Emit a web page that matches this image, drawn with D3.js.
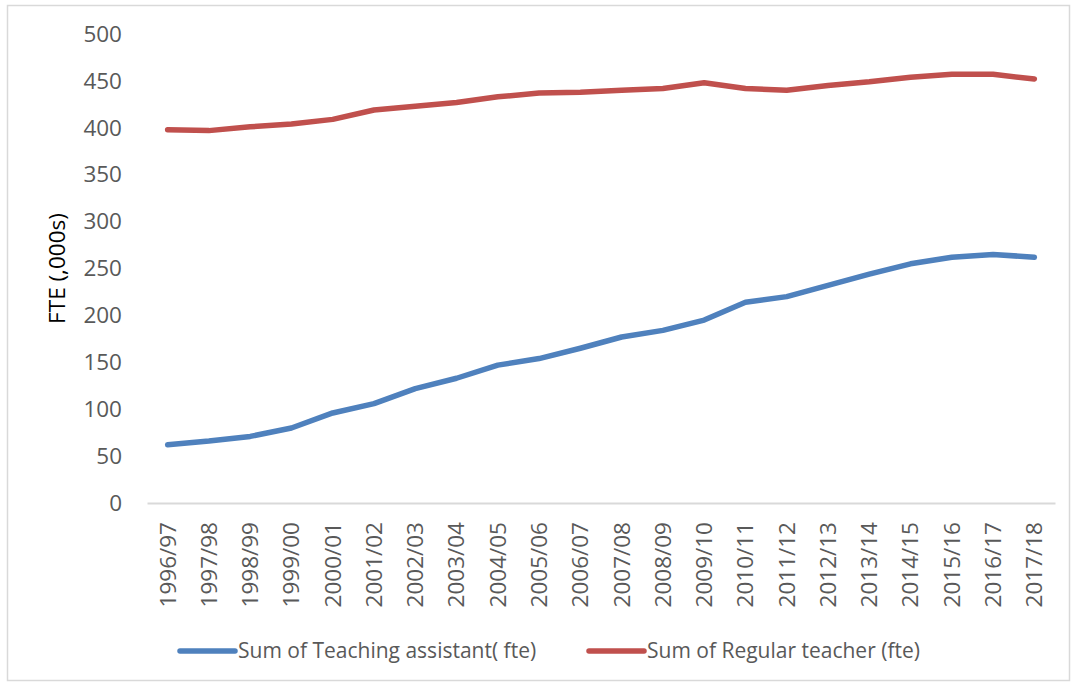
<!DOCTYPE html>
<html>
<head>
<meta charset="utf-8">
<script src="https://cdn.jsdelivr.net/npm/d3@7"></script>
<style>
  body { margin: 0; background: #fff; }
  svg text { font-family: "Open Sans", "Noto Sans", sans-serif; }
</style>
</head>
<body>
<div id="chart"></div>
<script>
// school years on the x axis
const years = ["1996/97", "1997/98", "1998/99", "1999/00", "2000/01", "2001/02", "2002/03",
    "2003/04", "2004/05", "2005/06", "2006/07", "2007/08", "2008/09", "2009/10", "2010/11",
    "2011/12", "2012/13", "2013/14", "2014/15", "2015/16", "2016/17", "2017/18"];

// FTE, thousands
const teachingAssistant = [62, 66, 71, 80, 96, 106, 122, 133, 147, 154, 165, 177, 184, 195,
    214, 220, 232, 244, 255, 262, 265, 262];
const regularTeacher = [398, 397, 401, 404, 409, 419, 423, 427, 433, 437, 438, 440, 442, 448,
    442, 440, 445, 449, 454, 457, 457, 452];

const yTicks = [0, 50, 100, 150, 200, 250, 300, 350, 400, 450, 500];

const seriesNames = ["Sum of Teaching assistant( fte)", "Sum of Regular teacher (fte)"];
const seriesColors = ["#4f81bd", "#c0504d"];

const W = 1077, H = 686;
const margin = {top: 34, right: 22, bottom: 183, left: 147};
const width = W - margin.left - margin.right;
const height = H - margin.top - margin.bottom;

const svg = d3.select("#chart").append("svg")
    .attr("width", W)
    .attr("height", H);

// outer chart border
svg.append("rect")
    .attr("x", 7.5).attr("y", 5.5)
    .attr("width", W - 15).attr("height", H - 11)
    .attr("fill", "none")
    .attr("stroke", "#d9d9d9")
    .attr("stroke-width", 1.5);

const g = svg.append("g").attr("transform", `translate(${margin.left},${margin.top})`);

const x = d3.scaleBand().domain(years).range([0, width]);
const y = d3.scaleLinear().domain([0, 500]).range([height, 0]);

// y axis labels, no line
const yAxis = g.append("g")
    .call(d3.axisLeft(y).tickValues(yTicks).tickSize(0).tickPadding(25));
yAxis.select(".domain").remove();
yAxis.selectAll("text")
    .attr("fill", "#595959")
    .style("font-size", "22.5px");

// x axis
const xAxis = g.append("g")
    .attr("transform", `translate(0,${height})`)
    .call(d3.axisBottom(x).tickSize(0));
xAxis.select(".domain").attr("stroke", "#d9d9d9").attr("stroke-width", 2);
xAxis.selectAll("text")
    .attr("fill", "#595959")
    .style("font-size", "22.5px")
    .attr("text-anchor", "end")
    .attr("dy", "0.35em")
    .attr("transform", "rotate(-90)")
    .attr("x", -19)
    .attr("y", 0);

// y axis title
svg.append("text")
    .attr("transform", `translate(57,${margin.top + height / 2}) rotate(-90)`)
    .attr("text-anchor", "middle")
    .attr("dy", "0.35em")
    .attr("fill", "#000")
    .style("font-size", "22.5px")
    .text("FTE (,000s)");

const line = d3.line()
    .x((d, i) => x(years[i]) + x.bandwidth() / 2)
    .y(d => y(d));

[teachingAssistant, regularTeacher].forEach((s, i) => {
    g.append("path")
        .datum(s)
        .attr("fill", "none")
        .attr("stroke", seriesColors[i])
        .attr("stroke-width", 5.5)
        .attr("stroke-linecap", "round")
        .attr("stroke-linejoin", "round")
        .attr("d", line);
});

// legend
const legendX = [180, 589];
const legend = svg.selectAll(".legend")
    .data(seriesNames)
    .enter().append("g")
    .attr("class", "legend")
    .attr("transform", (d, i) => `translate(${legendX[i]},651)`);

legend.append("line")
    .attr("x1", 0).attr("x2", 55)
    .attr("stroke", (d, i) => seriesColors[i])
    .attr("stroke-width", 5.5)
    .attr("stroke-linecap", "round");

legend.append("text")
    .attr("x", 58)
    .attr("dy", "0.35em")
    .attr("fill", "#595959")
    .style("font-size", "21px")
    .text(d => d);
</script>
</body>
</html>
